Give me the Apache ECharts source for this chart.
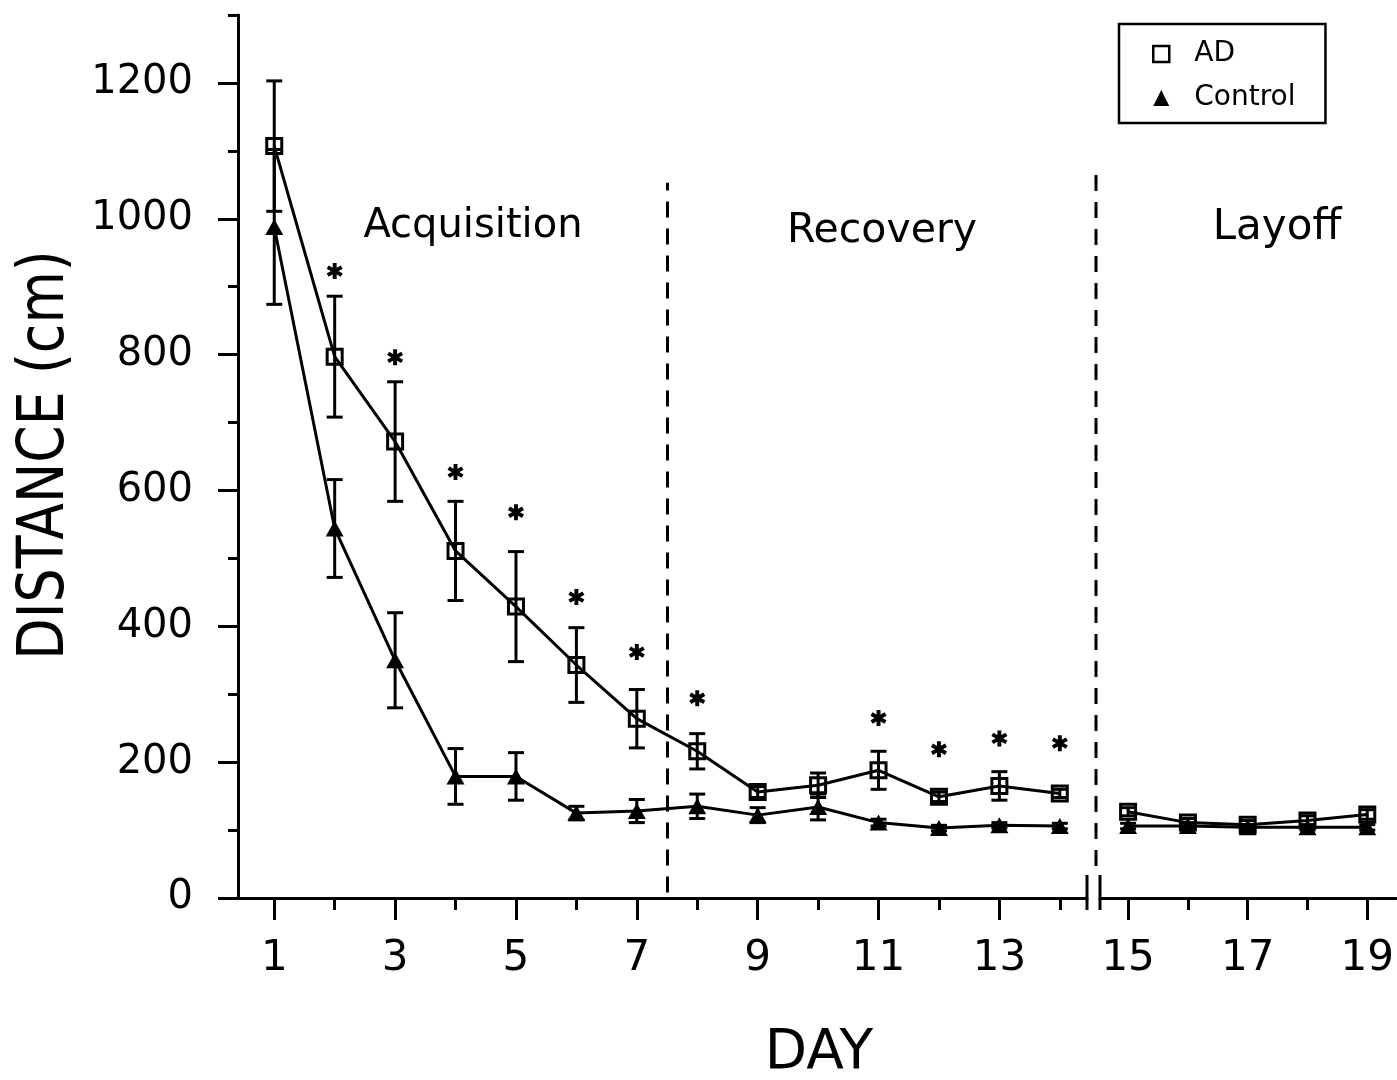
<!DOCTYPE html>
<html>
<head>
<meta charset="utf-8">
<title>Distance by day: AD vs Control</title>
<script src="https://cdn.jsdelivr.net/npm/echarts@6.0.0/dist/echarts.min.js"></script>
<style>
  html, body { margin: 0; padding: 0; background: #fff; }
  #chart { width: 1397px; height: 1080px; }
</style>
</head>
<body>
<div id="chart"></div>
<script>
// ---- data -------------------------------------------------------------
const days      = [1, 2, 3, 4, 5, 6, 7, 8, 9, 10, 11, 12, 13, 14, 15, 16, 17, 18, 19];
const adMean    = [1107, 797, 672, 511, 429, 343, 264, 216, 156, 166, 188, 149, 165, 154, 127, 111, 108, 114, 123];
const adSem     = [96, 89, 88, 73, 81, 55, 43, 26, 8, 18, 28, 7, 21, 6, 6, 6, 6, 7, 7];
const ctrlMean  = [988, 544, 350, 179, 179, 125, 128, 135, 122, 134, 111, 103, 107, 106, 106, 106, 104, 104, 104];
const ctrlSem   = [114, 72, 70, 41, 35, 10, 17, 18, 11, 19, 5, 4, 4, 4, 4, 4, 4, 4, 4];
const sigDays   = [2, 3, 4, 5, 6, 7, 8, 11, 12, 13, 14];
const sigLevel  = [923, 796, 627, 568, 443, 362, 294, 265, 219, 235, 228];
const lastAcqRecoveryDay = 14;         // days after this sit past the axis break
const phaseNames = ['Acquisition', 'Recovery', 'Layoff'];
const groupNames = ['AD', 'Control'];
const yLabelValues = [0, 200, 400, 600, 800, 1000, 1200];
const yMinorValues = [100, 300, 500, 700, 900, 1100, 1300];
const xLabelDays   = [1, 3, 5, 7, 9, 11, 13, 15, 17, 19];
const xMinorDays   = [2, 4, 6, 8, 10, 12, 14, 16, 18];

// ---- styling ----------------------------------------------------------
const FONT = 'DejaVu Sans';
const INK = '#000';
const LW = 3;

// two panels share one y scale; the second starts after the axis break
const panels = [
  { left: 238, width: 849, min: 0.4, max: 14.45 },
  { left: 1100, width: 297, min: 14.53, max: 19.48 }
];
const GRID_TOP = 15, GRID_H = 883, Y_MAX = 1300;

function inPanel(p, d) { return p === 0 ? d <= lastAcqRecoveryDay : d > lastAcqRecoveryDay; }
function pick(p, list) { return list.filter(d => inPanel(p, d)); }

function pointsOf(p, means) {
  const out = [];
  days.forEach((d, i) => { if (inPanel(p, d)) out.push([d, means[i]]); });
  return out;
}
function barsOf(p, means, sems) {
  const out = [];
  days.forEach((d, i) => { if (inPanel(p, d)) out.push([d, means[i] - sems[i], means[i] + sems[i]]); });
  return out;
}

function errorBarItem(params, api) {
  const x = api.value(0);
  const hi = api.coord([x, api.value(2)]);
  const lo = api.coord([x, api.value(1)]);
  const half = 8;
  const style = { stroke: INK, lineWidth: LW, fill: null };
  return {
    type: 'group',
    children: [
      { type: 'line', shape: { x1: hi[0], y1: hi[1], x2: lo[0], y2: lo[1] }, style },
      { type: 'line', shape: { x1: hi[0] - half, y1: hi[1], x2: hi[0] + half, y2: hi[1] }, style },
      { type: 'line', shape: { x1: lo[0] - half, y1: lo[1], x2: lo[0] + half, y2: lo[1] }, style }
    ]
  };
}

// six-armed asterisk drawn as three crossing bars
const ASTERISK = 'path://M1.7,-7L1.7,7L-1.7,7L-1.7,-7Z' +
  'M6.912,-2.028L-5.212,4.972L-6.912,2.028L5.212,-4.972Z' +
  'M5.212,4.972L-6.912,-2.028L-5.212,-4.972L6.912,2.028Z';

const labelStyle = { color: INK, fontFamily: FONT };
const plainNumber = v => String(v);

const grid = panels.map(p => ({ left: p.left, width: p.width, top: GRID_TOP, height: GRID_H, containLabel: false }));

const xAxis = [];
panels.forEach((p, pi) => {
  // long ticks with labels on odd days
  xAxis.push({
    type: 'value', gridIndex: pi, min: p.min, max: p.max, position: 'bottom',
    axisLine: { show: true, onZero: false, lineStyle: { color: INK, width: 3 } },
    axisTick: { show: true, customValues: pick(pi, xLabelDays), length: 22, lineStyle: { color: INK, width: 3 } },
    axisLabel: { show: true, customValues: pick(pi, xLabelDays), formatter: plainNumber, fontSize: 42, margin: 40, ...labelStyle },
    splitLine: { show: false }
  });
  // short ticks on even days
  xAxis.push({
    type: 'value', gridIndex: pi, min: p.min, max: p.max, position: 'bottom',
    axisLine: { show: false },
    axisTick: { show: true, customValues: pick(pi, xMinorDays), length: 12, lineStyle: { color: INK, width: 3 } },
    axisLabel: { show: false },
    splitLine: { show: false }
  });
});

const yAxis = [
  {
    type: 'value', gridIndex: 0, min: 0, max: Y_MAX, position: 'left',
    axisLine: { show: true, lineStyle: { color: INK, width: 3 } },
    axisTick: { show: true, customValues: yLabelValues, length: 20, lineStyle: { color: INK, width: 3 } },
    axisLabel: { show: true, customValues: yLabelValues, formatter: plainNumber, fontSize: 40, margin: 45, ...labelStyle },
    splitLine: { show: false }
  },
  {
    type: 'value', gridIndex: 0, min: 0, max: Y_MAX, position: 'left',
    axisLine: { show: false },
    axisTick: { show: true, customValues: yMinorValues, length: 10, lineStyle: { color: INK, width: 3 } },
    axisLabel: { show: false },
    splitLine: { show: false }
  },
  { type: 'value', gridIndex: 1, min: 0, max: Y_MAX, show: false }
];

const series = [];
panels.forEach((p, pi) => {
  const xi = pi * 2, yi = pi === 0 ? 0 : 2;
  series.push({
    type: 'custom', xAxisIndex: xi, yAxisIndex: yi, renderItem: errorBarItem,
    data: barsOf(pi, ctrlMean, ctrlSem), encode: { x: 0, y: [1, 2] }, silent: true, z: 2
  });
  series.push({
    type: 'custom', xAxisIndex: xi, yAxisIndex: yi, renderItem: errorBarItem,
    data: barsOf(pi, adMean, adSem), encode: { x: 0, y: [1, 2] }, silent: true, z: 2
  });
  series.push({
    name: groupNames[1], type: 'line', xAxisIndex: xi, yAxisIndex: yi,
    data: pointsOf(pi, ctrlMean),
    symbol: 'triangle', symbolSize: [18, 16],
    itemStyle: { color: INK },
    lineStyle: { color: INK, width: LW },
    silent: true, z: 3
  });
  const ad = {
    name: groupNames[0], type: 'line', xAxisIndex: xi, yAxisIndex: yi,
    data: pointsOf(pi, adMean),
    symbol: 'rect', symbolSize: 15,
    itemStyle: { color: 'rgba(255,255,255,0)', borderColor: INK, borderWidth: LW },
    lineStyle: { color: INK, width: LW },
    silent: true, z: 4
  };
  if (pi === 0) {
    // boundary between the acquisition and recovery phases
    ad.markLine = {
      silent: true, symbol: 'none', label: { show: false },
      lineStyle: { color: INK, width: LW, type: [16, 11] },
      data: [[{ coord: [7.5, 8] }, { coord: [7.5, 1053] }]]
    };
  }
  series.push(ad);
});

series.push({
  type: 'scatter', xAxisIndex: 0, yAxisIndex: 0,
  data: sigDays.map((d, i) => [d, sigLevel[i]]),
  symbol: ASTERISK, symbolSize: [16, 16],
  itemStyle: { color: INK, opacity: 1 }, silent: true, z: 5
});

const textCommon = { fill: INK, fontFamily: FONT, align: 'center', verticalAlign: 'middle' };

const graphic = [
  // axis break marks
  { type: 'line', shape: { x1: 1087, y1: 875, x2: 1087, y2: 910 }, style: { stroke: INK, lineWidth: LW } },
  { type: 'line', shape: { x1: 1100, y1: 875, x2: 1100, y2: 910 }, style: { stroke: INK, lineWidth: LW } },
  // boundary between recovery and layoff
  { type: 'line', shape: { x1: 1096, y1: 175, x2: 1096, y2: 868 }, style: { stroke: INK, lineWidth: LW, lineDash: [16, 11] } },
  // phase headings
  { type: 'text', x: 473, y: 227, style: { ...textCommon, text: phaseNames[0], fontSize: 40 } },
  { type: 'text', x: 882, y: 231, style: { ...textCommon, text: phaseNames[1], fontSize: 41 } },
  { type: 'text', x: 1277, y: 228, style: { ...textCommon, text: phaseNames[2], fontSize: 42 } },
  // axis titles
  { type: 'text', x: 819, y: 1054, style: { ...textCommon, text: 'DAY', fontSize: 55 } },
  { type: 'text', x: 46, y: 455, rotation: Math.PI / 2, scaleX: 0.84,
    style: { ...textCommon, text: 'DISTANCE (cm)', fontSize: 64 } }
];

const chart = echarts.init(document.getElementById('chart'), null, { renderer: 'canvas' });
chart.setOption({
  animation: false,
  backgroundColor: '#fff',
  grid,
  xAxis,
  yAxis,
  legend: {
    orient: 'vertical', left: 1119, top: 24,
    padding: [15, 30, 10, 33], itemGap: 14, itemWidth: 16, itemHeight: 16,
    borderColor: INK, borderWidth: 2.5, backgroundColor: '#fff',
    selectedMode: false,
    textStyle: { color: INK, fontFamily: FONT, fontSize: 28, lineHeight: 30, padding: [0, 0, 0, 20] },
    data: [
      { name: groupNames[0], icon: 'rect', itemStyle: { color: '#fff', borderColor: INK, borderWidth: 2.5 } },
      { name: groupNames[1], icon: 'triangle', itemStyle: { color: INK, borderWidth: 0 } }
    ]
  },
  graphic,
  series
});
</script>
</body>
</html>
